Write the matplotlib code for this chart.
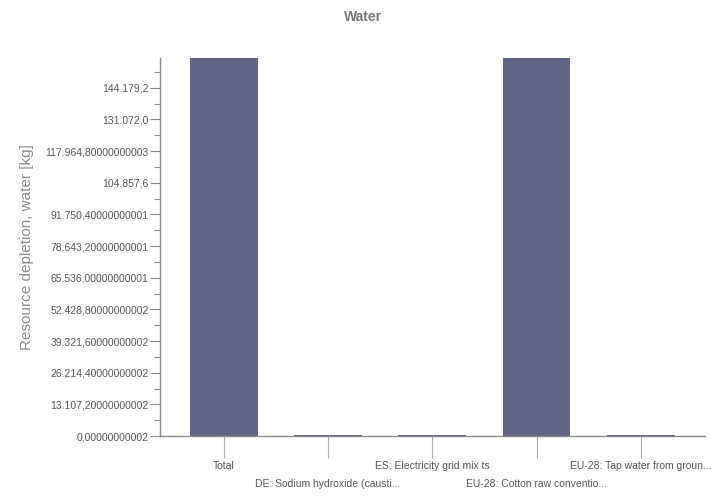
import matplotlib
matplotlib.use("Agg")
import matplotlib.pyplot as plt
from matplotlib.ticker import FixedLocator, MultipleLocator

categories = ["Total", "DE: Sodium hydroxide (causti...", "ES: Electricity grid mix ts",
              "EU-28: Cotton raw conventio...", "EU-28: Tap water from groun..."]
values = [158000.0, 350.0, 300.0, 157500.0, 380.0]
ytick_values = [0, 13107.2, 26214.4, 39321.6, 52428.8, 65536.0, 78643.2, 91750.4,
                104857.6, 117964.8, 131072.0, 144179.2]
ytick_labels = ["0,00000000002", "13.107,20000000002", "26.214,40000000002",
                "39.321,60000000002", "52.428,80000000002", "65.536,00000000001",
                "78.643,20000000001", "91.750,40000000001", "104.857,6",
                "117.964,80000000003", "131.072,0", "144.179,2"]
y_max = 156500

plt.rcParams['font.family'] = ['Liberation Sans', 'DejaVu Sans']

fig = plt.figure(figsize=(7.2, 4.97), dpi=100)
ax = fig.add_axes([0.222, 0.1227, 0.757, 0.7606])

x = list(range(len(categories)))
ax.bar(x, values, width=0.65, color="#626587", edgecolor="none", zorder=2)

ax.set_xlim(-0.615, len(categories) - 1 + 0.615)
ax.set_ylim(0, y_max)

ax.yaxis.set_major_locator(FixedLocator(ytick_values))
ax.set_yticklabels(ytick_labels)
ax.yaxis.set_minor_locator(MultipleLocator(13107.2 / 2))

ax.set_xticks(x)
ax.set_xticklabels(categories)

for s in ["top", "right"]:
    ax.spines[s].set_visible(False)
for s in ["left", "bottom"]:
    ax.spines[s].set_color("#8a8a8a")
    ax.spines[s].set_linewidth(1.0)

ax.tick_params(axis="y", which="major", length=7, width=0.8, color="#8a8a8a",
               labelsize=7.5, labelcolor="#555555", pad=1)
ax.tick_params(axis="y", which="minor", length=4, width=0.8, color="#8a8a8a")
ax.tick_params(axis="x", which="major", length=16, width=0.8, color="#aaaaaa",
               labelsize=7.5, labelcolor="#555555", pad=2)

for i, t in enumerate(ax.xaxis.get_major_ticks()):
    if i % 2 == 1:
        t.set_pad(15)

ax.set_ylabel("Resource depletion, water [kg]", fontsize=11, color="#8c8c8c", labelpad=8)
fig.text(0.504, 0.965, "Water", ha="center", va="center", fontsize=10,
         fontweight="bold", color="#777777")

fig.savefig("out.png", dpi=100)
